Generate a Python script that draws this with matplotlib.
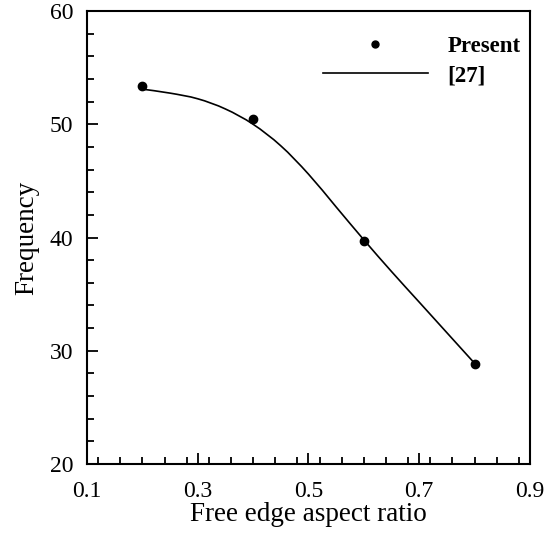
import numpy as np
import matplotlib
matplotlib.use('Agg')
import matplotlib.pyplot as plt
from matplotlib.ticker import MultipleLocator
from matplotlib.path import Path
from matplotlib.patches import PathPatch
from matplotlib.lines import Line2D

# Data
present_x = [0.2, 0.4, 0.6, 0.8]
present_y = [53.4, 50.5, 39.7, 28.8]

# reference [27] curve
ref_x = [0.2, 0.25, 0.3, 0.35, 0.4, 0.45, 0.5, 0.55, 0.6, 0.65, 0.7, 0.75, 0.8]
ref_y = [53.1, 52.75, 52.25, 51.35, 50.0, 48.1, 45.6, 42.7, 39.8, 37.0, 34.3, 31.6, 28.9]


def smooth_path(xs, ys):
    # Catmull-Rom through the read points, drawn as cubic Bezier segments
    p = np.column_stack([xs, ys])
    verts = [p[0]]
    codes = [Path.MOVETO]
    n = len(p)
    for i in range(n - 1):
        p0 = p[max(i - 1, 0)]
        p1 = p[i]
        p2 = p[i + 1]
        p3 = p[min(i + 2, n - 1)]
        verts += [p1 + (p2 - p0) / 6, p2 - (p3 - p1) / 6, p2]
        codes += [Path.CURVE4] * 3
    return Path(verts, codes)


plt.rcParams['font.family'] = 'Liberation Serif'

fig = plt.figure(figsize=(5.56, 5.35), dpi=100)
ax = fig.add_axes([0.1565, 0.1327, 0.7965, 0.8467])

ax.plot(present_x, present_y, 'o', color='black', markersize=6)
ax.add_patch(PathPatch(smooth_path(ref_x, ref_y), facecolor='none',
                       edgecolor='black', linewidth=1.2))

ax.set_xlim(0.1, 0.9)
ax.set_ylim(20, 60)
ax.xaxis.set_minor_locator(MultipleLocator(0.04))
ax.yaxis.set_major_locator(MultipleLocator(10))
ax.yaxis.set_minor_locator(MultipleLocator(2))
ax.set_xticks([0.1, 0.3, 0.5, 0.7, 0.9])
ax.set_xticklabels(['0.1', '0.3', '0.5', '0.7', '0.9'])

ax.tick_params(which='both', direction='in', top=False, right=False, labelsize=17, width=1.3)
ax.tick_params(which='major', length=8)
ax.tick_params(which='minor', length=5)
ax.tick_params(axis='x', which='both', pad=12)
ax.tick_params(axis='y', which='both', pad=10)
for s in ax.spines.values():
    s.set_linewidth(1.5)

ax.set_xlabel('Free edge aspect ratio', fontsize=19.5, labelpad=0)
ax.set_ylabel('Frequency', fontsize=19.5, labelpad=7)

handles = [Line2D([], [], marker='o', color='black', linestyle='none', markersize=5),
           Line2D([], [], color='black', linewidth=1.2)]
leg = ax.legend(handles, ['Present', '[27]'], loc='upper right',
                bbox_to_anchor=(1.026, 0.99), frameon=False,
                handlelength=4.6, handletextpad=0.85, labelspacing=0.35,
                prop={'weight': 'bold', 'size': 16.5})

plt.savefig('out.png', dpi=100)
